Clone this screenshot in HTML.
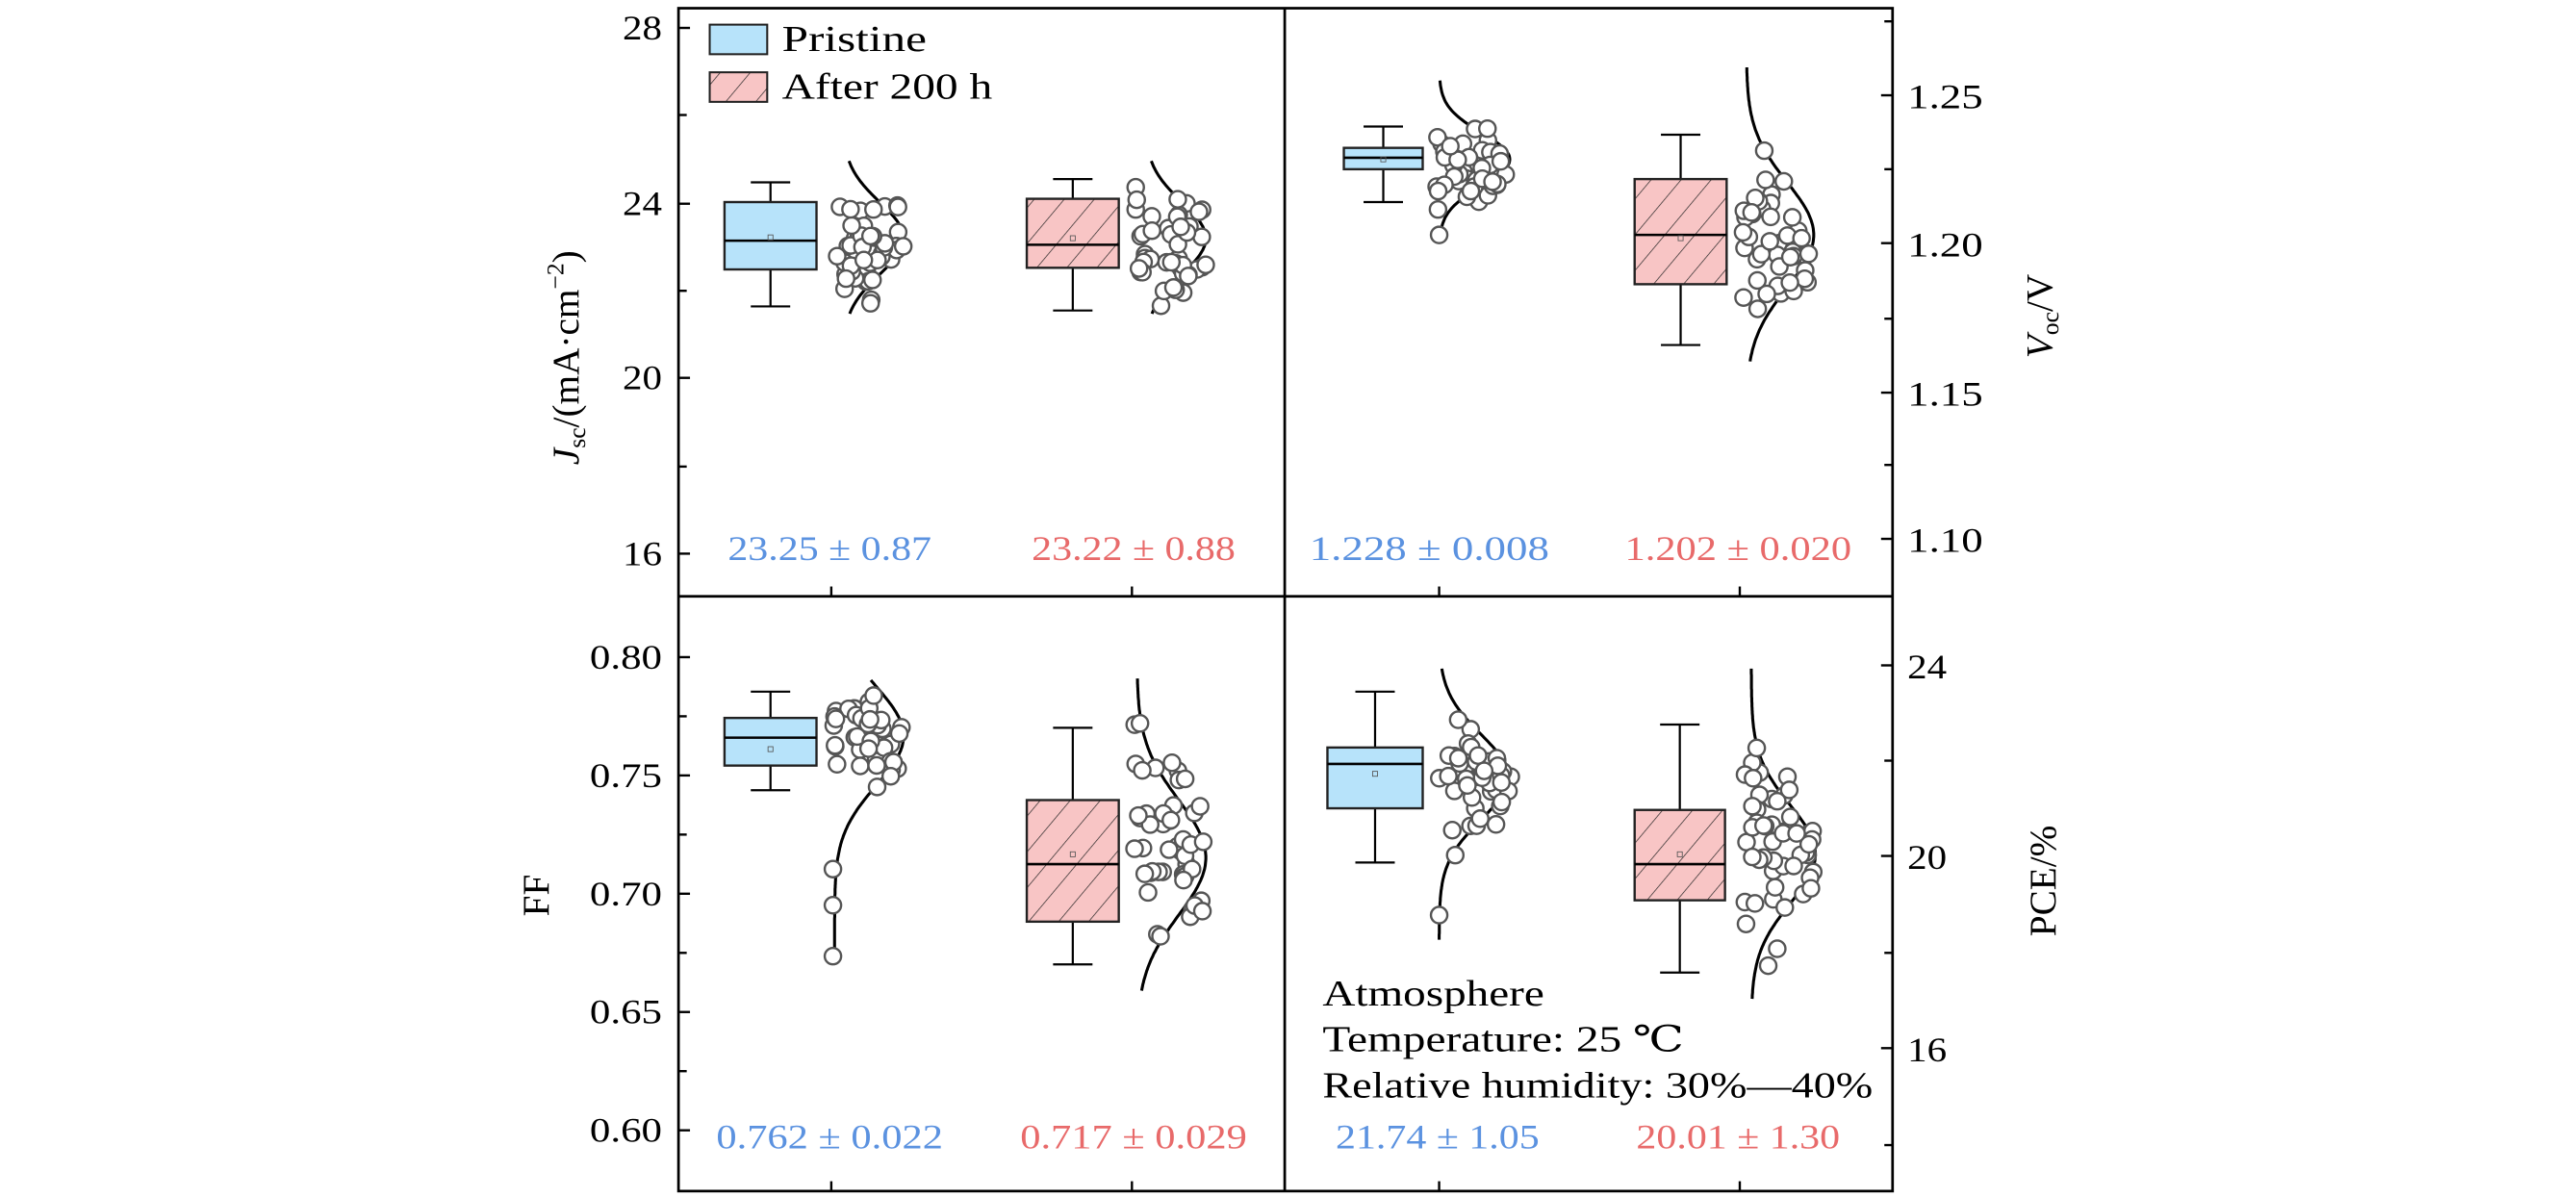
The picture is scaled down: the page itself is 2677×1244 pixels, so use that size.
<!DOCTYPE html>
<html><head><meta charset="utf-8"><style>
html,body{margin:0;padding:0;background:#fff;}
svg{display:block;}
text{font-family:"Liberation Serif","DejaVu Serif",serif;}
</style></head><body>
<svg id="s" xmlns="http://www.w3.org/2000/svg" width="2677" height="1244" viewBox="0 0 1568 728.6" preserveAspectRatio="none">
<defs>
<pattern id="h" patternUnits="userSpaceOnUse" width="14" height="14" patternTransform="rotate(40)">
<rect width="14" height="14" fill="#f8c5c5"/>
<line x1="0" y1="0" x2="0" y2="14" stroke="#222" stroke-width="0.8"/>
</pattern>
</defs>
<g id="plots"></g>
<g fill="none" stroke="#000" stroke-width="1.6">
<rect x="413" y="5" width="739" height="720"/>
<line x1="782" y1="5" x2="782" y2="725"/>
<line x1="413" y1="363" x2="1152" y2="363"/>
</g>
<g id="ticks" stroke="#000" stroke-width="1.4"></g>
<g font-size="21" fill="#000">
<text x="403" y="24" text-anchor="end" textLength="24" lengthAdjust="spacingAndGlyphs">28</text>
<text x="403" y="131" text-anchor="end" textLength="24" lengthAdjust="spacingAndGlyphs">24</text>
<text x="403" y="237" text-anchor="end" textLength="24" lengthAdjust="spacingAndGlyphs">20</text>
<text x="403" y="344" text-anchor="end" textLength="24" lengthAdjust="spacingAndGlyphs">16</text>
<text x="1161" y="66" textLength="46" lengthAdjust="spacingAndGlyphs">1.25</text>
<text x="1161" y="156" textLength="46" lengthAdjust="spacingAndGlyphs">1.20</text>
<text x="1161" y="247" textLength="46" lengthAdjust="spacingAndGlyphs">1.15</text>
<text x="1161" y="336" textLength="46" lengthAdjust="spacingAndGlyphs">1.10</text>
<text x="403" y="407" text-anchor="end" textLength="44" lengthAdjust="spacingAndGlyphs">0.80</text>
<text x="403" y="479" text-anchor="end" textLength="44" lengthAdjust="spacingAndGlyphs">0.75</text>
<text x="403" y="551" text-anchor="end" textLength="44" lengthAdjust="spacingAndGlyphs">0.70</text>
<text x="403" y="623" text-anchor="end" textLength="44" lengthAdjust="spacingAndGlyphs">0.65</text>
<text x="403" y="695" text-anchor="end" textLength="44" lengthAdjust="spacingAndGlyphs">0.60</text>
<text x="1161" y="413" textLength="24" lengthAdjust="spacingAndGlyphs">24</text>
<text x="1161" y="529" textLength="24" lengthAdjust="spacingAndGlyphs">20</text>
<text x="1161" y="646" textLength="24" lengthAdjust="spacingAndGlyphs">16</text>
</g>
<g font-size="23" fill="#000">
<text transform="translate(352,283) rotate(-90)"><tspan font-style="italic">J</tspan><tspan font-size="15" dy="4">sc</tspan><tspan dy="-4">/(mA·cm</tspan><tspan font-size="15" dy="-9">−2</tspan><tspan dy="9">)</tspan></text>
<text transform="translate(1249,218) rotate(-90)"><tspan font-style="italic">V</tspan><tspan font-size="15" dy="4">oc</tspan><tspan dy="-4">/V</tspan></text>
<text transform="translate(334,545) rotate(-90)" text-anchor="middle">FF</text>
<text transform="translate(1251,570) rotate(-90)">PCE/%</text>
</g>
<rect x="432" y="15" width="35" height="18" fill="#b7e3fa" stroke="#222" stroke-width="1.2"/>
<rect x="432" y="44" width="35" height="18" fill="url(#h)" stroke="#222" stroke-width="1.2"/>
<g font-size="22" fill="#000">
<text x="476" y="31" textLength="88" lengthAdjust="spacingAndGlyphs">Pristine</text>
<text x="476" y="60" textLength="128" lengthAdjust="spacingAndGlyphs">After 200 h</text>
<text x="805" y="612" textLength="135" lengthAdjust="spacingAndGlyphs">Atmosphere</text>
<text x="805" y="640" textLength="220" lengthAdjust="spacingAndGlyphs">Temperature: 25 ℃</text>
<text x="805" y="668" textLength="335" lengthAdjust="spacingAndGlyphs">Relative humidity: 30%—40%</text>
</g>
<g font-size="21" text-anchor="middle">
<text x="505" y="341" fill="#5b92e0" textLength="124" lengthAdjust="spacingAndGlyphs">23.25 ± 0.87</text>
<text x="690" y="341" fill="#e86a6a" textLength="124" lengthAdjust="spacingAndGlyphs">23.22 ± 0.88</text>
<text x="870" y="341" fill="#5b92e0" textLength="146" lengthAdjust="spacingAndGlyphs">1.228 ± 0.008</text>
<text x="1058" y="341" fill="#e86a6a" textLength="138" lengthAdjust="spacingAndGlyphs">1.202 ± 0.020</text>
<text x="505" y="699" fill="#5b92e0" textLength="138" lengthAdjust="spacingAndGlyphs">0.762 ± 0.022</text>
<text x="690" y="699" fill="#e86a6a" textLength="138" lengthAdjust="spacingAndGlyphs">0.717 ± 0.029</text>
<text x="875" y="699" fill="#5b92e0" textLength="124" lengthAdjust="spacingAndGlyphs">21.74 ± 1.05</text>
<text x="1058" y="699" fill="#e86a6a" textLength="124" lengthAdjust="spacingAndGlyphs">20.01 ± 1.30</text>
</g>
</svg>
<script>
var NS="http://www.w3.org/2000/svg";
function el(p,t,a){var e=document.createElementNS(NS,t);for(var k in a)e.setAttribute(k,a[k]);p.appendChild(e);return e;}
var T=document.getElementById('ticks');
function tk(x1,y1,x2,y2){el(T,'line',{x1:x1,y1:y1,x2:x2,y2:y2});}
[17,124,230,337].forEach(function(y){tk(413,y,420,y)});[70,177,284].forEach(function(y){tk(413,y,418,y)});
[58,148,239,328].forEach(function(y){tk(1152,y,1145,y)});[13,103,194,283].forEach(function(y){tk(1152,y,1147,y)});
[400,472,544,616,688].forEach(function(y){tk(413,y,420,y)});[436,508,580,652].forEach(function(y){tk(413,y,418,y)});
[405,521,638].forEach(function(y){tk(1152,y,1145,y)});[463,580,697].forEach(function(y){tk(1152,y,1147,y)});
[506,689,876,1059].forEach(function(x){tk(x,363,x,357);tk(x,725,x,719);});
var P=document.getElementById('plots');
var seed=7;function rnd(){seed=(seed*16807)%2147483647;return seed/2147483647;}
function grp(g){
 var c=(g.bl+g.br)/2;
 el(P,'line',{x1:c,y1:g.wt,x2:c,y2:g.wb,stroke:'#000','stroke-width':1.3});
 el(P,'line',{x1:c-12,y1:g.wt,x2:c+12,y2:g.wt,stroke:'#000','stroke-width':1.3});
 el(P,'line',{x1:c-12,y1:g.wb,x2:c+12,y2:g.wb,stroke:'#000','stroke-width':1.3});
 el(P,'rect',{x:g.bl,y:g.q3,width:g.br-g.bl,height:g.q1-g.q3,fill:g.f,stroke:'#222','stroke-width':1.4});
 el(P,'line',{x1:g.bl,y1:g.md,x2:g.br,y2:g.md,stroke:'#000','stroke-width':1.5});
 el(P,'rect',{x:c-1.5,y:g.mn-1.5,width:3,height:3,fill:'none',stroke:'#555','stroke-width':0.5});
 var d='';for(var y=g.ct;y<=g.cb;y+=1){var x=g.x0+g.A*Math.exp(-(y-g.mu)*(y-g.mu)/(2*g.s*g.s));d+=(y==g.ct?'M':'L')+x.toFixed(1)+' '+y;}
 el(P,'path',{d:d,fill:'none',stroke:'#000','stroke-width':1.8});
 for(var i=0;i<g.n;i++){var u=(rnd()+rnd()+rnd())/3;var y=g.y1+(g.y2-g.y1)*(i<4?rnd():u);
  var x=g.x1+(g.x2-g.x1)*rnd()*Math.min(1,0.35+Math.exp(-(y-g.mu)*(y-g.mu)/(2*g.s*g.s)));
  el(P,'circle',{cx:x.toFixed(1),cy:y.toFixed(1),r:5,fill:'#fff',stroke:'#555','stroke-width':1.4});}
 (g.out||[]).forEach(function(o){el(P,'circle',{cx:o[0],cy:o[1],r:5,fill:'#fff',stroke:'#555','stroke-width':1.4});});
}
var B='#b7e3fa',H='url(#h)';
[
{bl:441,br:497,wt:111,q3:123,md:146.5,q1:164,wb:186.5,mn:144.5,f:B,x1:508,x2:550,y1:108,y2:192,x0:513,A:37,ct:98,cb:191,mu:145,s:22,n:45},
{bl:625,br:681,wt:109,q3:121,md:149,q1:163,wb:189,mn:145,f:H,x1:691,x2:735,y1:106,y2:194,x0:697,A:37,ct:98,cb:191,mu:145,s:22,n:45},
{bl:818,br:866,wt:77,q3:90,md:96,q1:103,wb:123,mn:97,f:B,x1:874,x2:918,y1:75,y2:130,x0:876,A:43,ct:49,cb:145,mu:97,s:16,n:45,out:[[876,143]]},
{bl:995,br:1051,wt:82,q3:109,md:143,q1:173,wb:210,mn:145,f:H,x1:1061,x2:1101,y1:80,y2:210,x0:1063,A:41,ct:41,cb:220,mu:143,s:32,n:45},
{bl:441,br:497,wt:421,q3:437,md:449,q1:466,wb:481,mn:456,f:B,x1:507,x2:550,y1:419,y2:482,x0:508,A:42,ct:414,cb:585,mu:448,s:30,n:40,out:[[507,529],[507,551],[507,582]]},
{bl:625,br:681,wt:443,q3:487,md:526,q1:561,wb:587,mn:520,f:H,x1:690,x2:733,y1:439,y2:588,x0:692,A:42,ct:413,cb:603,mu:522,s:35,n:50},
{bl:808,br:866,wt:421,q3:455,md:465,q1:492,wb:525,mn:471,f:B,x1:876,x2:920,y1:420,y2:523,x0:876,A:42,ct:407,cb:572,mu:473,s:26,n:45,out:[[876,557]]},
{bl:995,br:1050,wt:441,q3:493,md:526,q1:548,wb:592,mn:520,f:H,x1:1062,x2:1104,y1:440,y2:593,x0:1066,A:39,ct:407,cb:608,mu:520,s:30,n:50}
].forEach(grp);
</script>
</body></html>
